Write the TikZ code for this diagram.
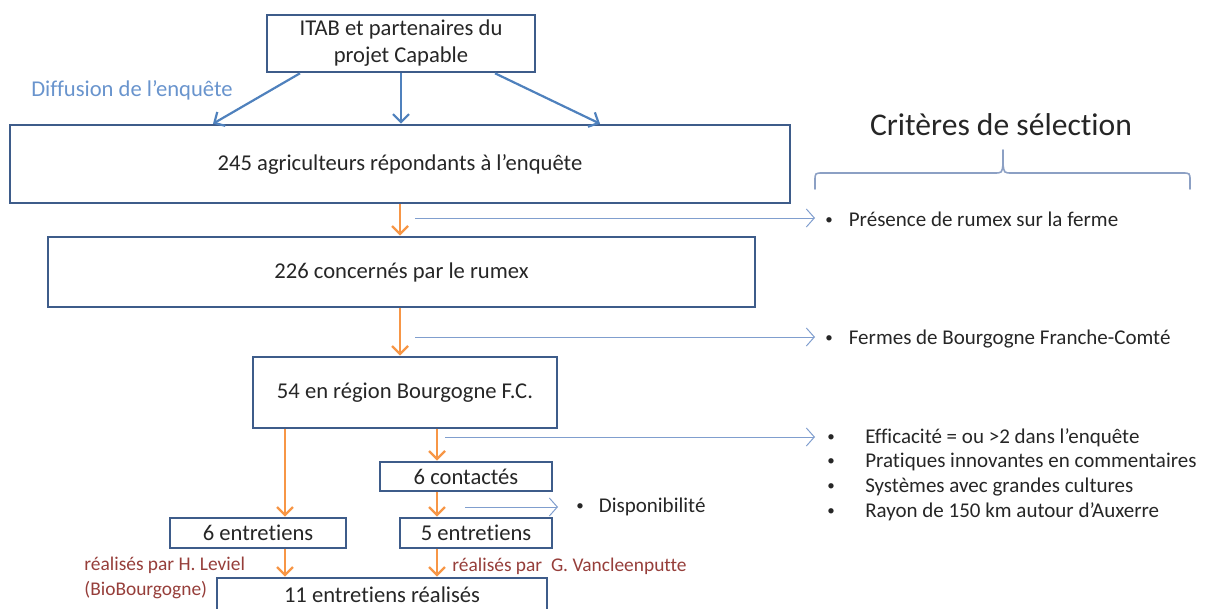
\documentclass[tikz,border=0pt]{standalone}
\usepackage{fontspec}
\setmainfont{Carlito}[Ligatures=NoCommon]
\usetikzlibrary{positioning, arrows.meta}
\definecolor{boxblue}{RGB}{62,92,138}
\definecolor{diffblue}{RGB}{79,129,189}
\definecolor{labelblue}{RGB}{105,148,205}
\definecolor{critblue}{RGB}{128,158,206}
\definecolor{braceblue}{RGB}{140,160,196}
\definecolor{flowor}{RGB}{247,150,70}
\definecolor{byred}{RGB}{150,62,58}
\definecolor{txtgray}{RGB}{38,38,38}
\newcommand{\critbullet}{\raisebox{0.9pt}{\fontsize{7.5}{7.5}\selectfont\textbullet}}
\tikzset{x=0.5pt, y=-0.5pt, % One unit is one pixel of the layout, y runs down
box/.style={ % Sets the properties for each box
draw=boxblue, line width=1.3pt, text=txtgray, align=center,
font=\fontsize{11.3}{13.5}\selectfont, inner sep=0pt},
crit/.style={ % Bullet lines on the right
anchor=west, inner sep=0pt, text=txtgray, font=\fontsize{10.5}{12.5}\selectfont},
byline/.style={ % Who did the interviews
anchor=west, inner sep=0pt, text=byred, align=left, font=\fontsize{9.7}{12.5}\selectfont},
diffuse/.style={draw=diffblue, line width=1.1pt, -{Straight Barb[length=4pt,width=8pt]}},
flow/.style={draw=flowor, line width=1.2pt, -{Straight Barb[length=4pt,width=8pt]}},
filter/.style={draw=critblue, line width=0.5pt, -{Straight Barb[length=4pt,width=9pt]}}}

\begin{document}
\begin{tikzpicture}
    \useasboundingbox (0,0) rectangle (1208,609);
    \clip (0,0) rectangle (1208,609);
    % boxes
    \node[box, minimum width=134pt, minimum height=28.5pt] (itab) at (401,43.5) {ITAB et partenaires du\\projet Capable};
    \node[box, minimum width=390pt, minimum height=39pt] (b245) at (400,164) {245 agriculteurs répondants à l’enquête};
    \node[box, minimum width=353.5pt, minimum height=35pt] (b226) at (401.5,272) {226 concernés par le rumex};
    \node[box, minimum width=152pt, minimum height=35.5pt] (b54) at (405,392.5) {54 en région Bourgogne F.C.};
    \node[box, minimum width=86pt, minimum height=14.5pt] (c6) at (466,476.5) {6 contactés};
    \node[box, minimum width=88pt, minimum height=15pt] (e6) at (258,533) {6 entretiens};
    \node[box, minimum width=76pt, minimum height=15pt] (e5) at (476,533) {5 entretiens};
    \node[box, minimum width=165pt, minimum height=17pt] (e11) at (382,595) {11 entretiens réalisés};
    % texts
    \node[text=labelblue, font=\fontsize{11.3}{13}\selectfont] (diff) at (132,90) {Diffusion de l’enquête};
    \node[text=txtgray, font=\fontsize{15.8}{17}\selectfont] (title) at (1001,125) {Critères de sélection};
    \node[crit] (k1) at (825,219) {\critbullet\hspace{8pt}Présence de rumex sur la ferme};
    \node[crit] (k2) at (825,339) {\critbullet\hspace{8pt}Fermes de Bourgogne Franche-Comté};
    \node[crit] (k3a) at (827,438) {\critbullet\hspace{15.2pt}Efficacité = ou >2 dans l’enquête};
    \node[crit] (k3b) at (827,462) {\critbullet\hspace{15.2pt}Pratiques innovantes en commentaires};
    \node[crit] (k3c) at (827,487) {\critbullet\hspace{15.2pt}Systèmes avec grandes cultures};
    \node[crit] (k3d) at (827,512) {\critbullet\hspace{15.2pt}Rayon de 150 km autour d’Auxerre};
    \node[crit] (k4) at (576,507) {\critbullet\hspace{7.5pt}Disponibilité};
    \node[byline] (byL) at (84,578) {réalisés par H. Leviel\\(BioBourgogne)};
    \node[byline] (byR) at (452,566) {réalisés par\ \ G. Vancleenputte};
    % brace over the criteria
    \draw[braceblue, line width=0.8pt, line cap=round]
        (815,189) -- (815,181) .. controls (815,173) .. (823,173) -- (994,173)
        .. controls (1002,173) .. (1003,164) -- (1003,150)
        (1003,164) .. controls (1004,173) .. (1012,173) -- (1182,173)
        .. controls (1190,173) .. (1190,181) -- (1190,189);
    % where the arrows leave the boxes
    \coordinate (colL) at (285,0);
    \coordinate (colR) at (437,0);
    \coordinate (s1) at (415,218);
    \coordinate (s2) at (415,337);
    \coordinate (s3) at (445,437);
    \coordinate (s4) at (465,507);
    % diffusion
    \draw ([xshift=-50.5pt]itab.south) edge[diffuse] ([xshift=-93.5pt]b245.north);
    \draw (itab.south) edge[diffuse] (itab.south |- b245.north);
    \draw ([xshift=47pt]itab.south) edge[diffuse] ([xshift=100pt]b245.north);
    % selection
    \draw (b245.south) edge[flow] (b245.south |- b226.north);
    \draw (b226.south -| b245.south) edge[flow] (b245.south |- b54.north);
    \draw (b54.south -| colL) edge[flow] (e6.north -| colL);
    \draw (b54.south -| colR) edge[flow] (c6.north -| colR);
    \draw (c6.south -| colR) edge[flow] (e5.north -| colR);
    \draw (e6.south -| colL) edge[flow] (e11.north -| colL);
    \draw (e5.south -| colR) edge[flow] (e11.north -| colR);
    % criteria
    \draw (s1) edge[filter] ([xshift=-5pt]s1 -| k1.west);
    \draw (s2) edge[filter] ([xshift=-5pt]s2 -| k2.west);
    \draw (s3) edge[filter] ([xshift=-6pt]s3 -| k3a.west);
    \draw (s4) edge[filter] ([xshift=-9pt]s4 -| k4.west);
\end{tikzpicture}
\end{document}
